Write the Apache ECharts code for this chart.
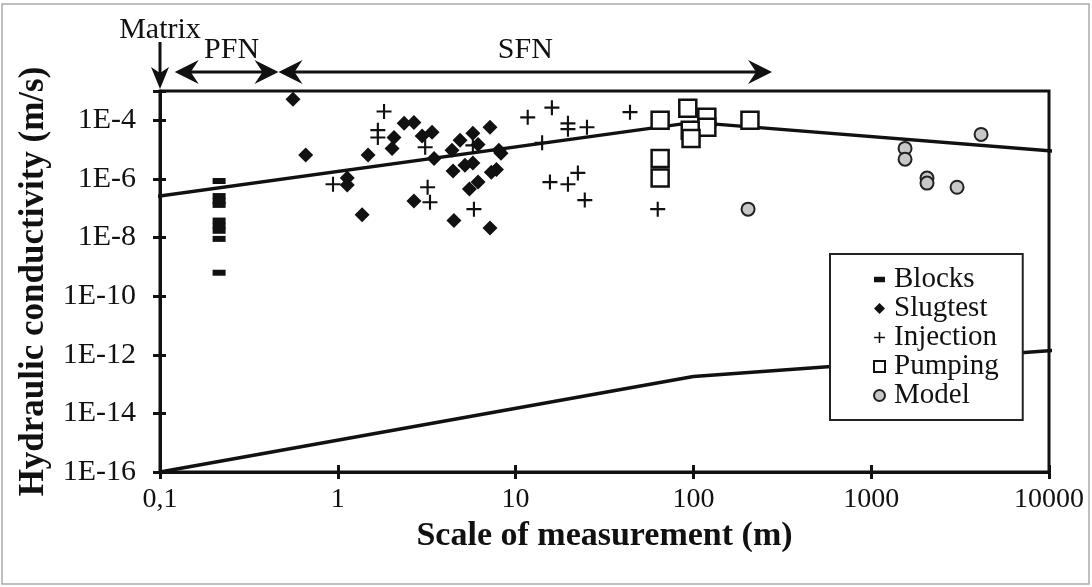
<!DOCTYPE html>
<html>
<head>
<meta charset="utf-8">
<script src="https://cdn.jsdelivr.net/npm/echarts@6/dist/echarts.min.js"></script>
<style>
    html, body { margin: 0; padding: 0; background: #fff; }
    #chart { width: 1092px; height: 587px; }
</style>
</head>
<body>
<div id="chart"></div>
<script>
const blocks = [
    [0.215, 8.5e-7], [0.215, 2.6e-7], [0.215, 1.75e-7], [0.215, 1.3e-7],
    [0.215, 3.8e-8], [0.215, 2.5e-8], [0.215, 1.7e-8], [0.215, 9e-9], [0.215, 6.3e-10]
]
const slugtest = [
    [0.56, 5.2e-4], [0.66, 6.5e-6], [1.48, 6.5e-6], [1.13, 1.07e-6], [1.13, 6.2e-7],
    [1.37, 6e-8], [2.02, 1.1e-5], [2.07, 2.6e-5], [2.36, 7.9e-5], [2.68, 8.5e-5],
    [2.98, 2.9e-5], [3.39, 3.9e-5], [3.48, 5e-6], [2.68, 1.75e-7], [4.5, 3.8e-8],
    [4.39, 9.5e-6], [4.45, 1.85e-6], [4.87, 2.1e-5], [5.19, 2.9e-6], [5.75, 3.6e-5],
    [5.75, 3.5e-6], [6.15, 1.5e-5], [6.15, 7.8e-7], [5.5, 4.5e-7], [7.18, 5.8e-5],
    [7.18, 2.1e-8], [7.3, 1.7e-6], [7.8, 2.1e-6], [8.05, 9.5e-6], [8.28, 7.5e-6]
]
const injection = [
    [1.82, 2.0e-4], [1.68, 4.6e-5], [1.68, 2.6e-5], [0.94, 6.6e-7], [3.1, 1.2e-5],
    [3.2, 5.2e-7], [3.3, 1.6e-7], [5.83, 9.3e-8], [5.75, 1.4e-5], [11.7, 1.26e-4],
    [16.0, 2.7e-4], [19.7, 7.9e-5], [19.7, 5e-5], [25.2, 5.8e-5], [14.1, 1.7e-5],
    [44, 1.9e-4], [15.6, 7.8e-7], [19.7, 6.6e-7], [22.4, 1.6e-6], [24.5, 1.9e-7],
    [63, 9.3e-8]
]
const pumping = [
    [65, 1e-4], [93, 2.6e-4], [119, 1.26e-4], [119, 5.8e-5], [96, 4.6e-5],
    [97, 2.4e-5], [208, 1e-4], [65, 5e-6], [65, 1.07e-6]
]
const model = [
    [203, 9.3e-8], [1550, 1.1e-5], [1550, 4.7e-6], [2060, 1.07e-6], [2060, 7.2e-7],
    [3040, 5.2e-7], [4150, 3.3e-5]
]
const upperLine = [[0.09, 2.4e-7], [100, 8.5e-5], [11800, 8.4e-6]]
const lowerLine = [[0.1, 1e-16], [100, 1.8e-13], [11800, 1.48e-12]]
const xTickLabels = ['0,1', '1', '10', '100', '1000', '10000']
const yMin = 1e-16, yMax = 1e-3
// annotation ranges along the x axis (m)
const matrixAt = 0.1
const pfnRange = [0.121, 0.464]
const sfnRange = [0.464, 277]

const FONT = 'Liberation Serif'
const plusPath = 'path://M6,0h2v6h6v2h-6v6h-2v-6h-6v-2h6z'

let chart = echarts.init(document.getElementById('chart'), null, { renderer: 'canvas' })

const gridBox = { left: 160, right: 43, top: 91, bottom: 115 }

function logAxis (extra) {
    return Object.assign({
        type: 'log',
        logBase: 10,
        splitLine: { show: false },
        minorTick: { show: false },
        axisLine: { show: true, lineStyle: { color: '#111', width: 3 } },
        axisTick: { show: true, length: 7, lineStyle: { color: '#111', width: 3 } }
    }, extra)
}

chart.setOption({
    animation: false,
    backgroundColor: '#fff',
    textStyle: { fontFamily: FONT, color: '#111' },
    grid: [
        Object.assign({ show: true, borderColor: '#111', borderWidth: 3, containLabel: false }, gridBox),
        Object.assign({ show: false, containLabel: false }, gridBox)
    ],
    legend: {
        orient: 'vertical',
        left: 830,
        top: 254,
        padding: [11, 24, 10, 43],
        itemGap: 0,
        itemWidth: 11,
        itemHeight: 11,
        borderColor: '#222',
        borderWidth: 2,
        backgroundColor: '#fff',
        textStyle: { fontFamily: FONT, fontSize: 29, color: '#111', padding: [0, 0, 0, 4] },
        data: [
            { name: 'Blocks', icon: 'path://M0,0h12v6h-12z' },
            { name: 'Slugtest', icon: 'diamond' },
            { name: 'Injection', icon: plusPath },
            { name: 'Pumping', icon: 'rect' },
            { name: 'Model', icon: 'circle' }
        ]
    },
    xAxis: [
        logAxis({
            gridIndex: 0,
            min: 0.1,
            max: 10000,
            name: 'Scale of measurement (m)',
            nameLocation: 'middle',
            nameGap: 38,
            nameTextStyle: { fontFamily: FONT, fontSize: 34, fontWeight: 'bold', color: '#111' },
            axisLabel: {
                margin: 14,
                fontFamily: FONT,
                fontSize: 28,
                color: '#111',
                formatter: function (v) {
                    return xTickLabels[Math.round(Math.log10(v)) + 1]
                }
            }
        }),
        logAxis({
            gridIndex: 1,
            min: 0.1,
            max: 10000,
            axisLine: { show: false },
            axisTick: { show: true, inside: true, length: 7, lineStyle: { color: '#111', width: 3 } },
            axisLabel: { show: false }
        })
    ],
    yAxis: [
        logAxis({
            gridIndex: 0,
            min: yMin,
            max: yMax,
            interval: 2,
            name: 'Hydraulic conductivity (m/s)',
            nameLocation: 'middle',
            nameGap: 106,
            nameTextStyle: { fontFamily: FONT, fontSize: 35, fontWeight: 'bold', color: '#111' },
            axisLabel: {
                margin: 24,
                fontFamily: FONT,
                fontSize: 30,
                color: '#111',
                formatter: function (v) {
                    let e = Math.round(Math.log10(v))
                    if (e % 2 !== 0) return ''
                    return '1E' + e
                }
            }
        }),
        logAxis({
            gridIndex: 1,
            min: yMin,
            max: yMax,
            interval: 2,
            axisLine: { show: false },
            axisTick: { show: true, inside: true, length: 6, lineStyle: { color: '#111', width: 3 } },
            axisLabel: { show: false }
        })
    ],
    series: [
        {
            name: 'upper',
            type: 'line',
            data: upperLine,
            symbol: 'none',
            clip: false,
            z: 2,
            lineStyle: { color: '#111', width: 3.5 }
        },
        {
            name: 'lower',
            type: 'line',
            data: lowerLine,
            symbol: 'none',
            clip: false,
            z: 2,
            lineStyle: { color: '#111', width: 3.5 }
        },
        {
            name: 'Blocks',
            type: 'scatter',
            data: blocks,
            symbol: 'rect',
            symbolSize: [13, 6],
            z: 3,
            itemStyle: { color: '#111', opacity: 1 }
        },
        {
            name: 'Slugtest',
            type: 'scatter',
            data: slugtest,
            symbol: 'diamond',
            symbolSize: 15,
            z: 3,
            itemStyle: { color: '#111', opacity: 1 }
        },
        {
            name: 'Injection',
            type: 'scatter',
            data: injection,
            symbol: plusPath,
            symbolSize: 15,
            z: 3,
            itemStyle: { color: '#111', opacity: 1 }
        },
        {
            name: 'Pumping',
            type: 'scatter',
            data: pumping,
            symbol: 'rect',
            symbolSize: 17,
            z: 4,
            itemStyle: { color: '#fff', borderColor: '#111', borderWidth: 2.5, opacity: 1 }
        },
        {
            name: 'Model',
            type: 'scatter',
            data: model,
            symbol: 'circle',
            symbolSize: 13,
            z: 4,
            itemStyle: { color: '#c8c8c8', borderColor: '#222', borderWidth: 2, opacity: 1 }
        }
    ]
})

// annotation arrows above the frame, placed through the x axis scale
function px (v) {
    return chart.convertToPixel({ xAxisIndex: 0 }, v)
}
function headLeft (x, y) {
    return { type: 'polygon', shape: { points: [[x, y], [x + 24, y - 12], [x + 16, y], [x + 24, y + 12]] }, style: { fill: '#111' } }
}
function headRight (x, y) {
    return { type: 'polygon', shape: { points: [[x, y], [x - 24, y - 12], [x - 16, y], [x - 24, y + 12]] }, style: { fill: '#111' } }
}
function doubleArrow (x1, x2, y) {
    return [
        { type: 'line', shape: { x1: x1 + 14, y1: y, x2: x2 - 14, y2: y }, style: { stroke: '#111', lineWidth: 3 } },
        headLeft(x1, y),
        headRight(x2, y)
    ]
}

let arrowY = 72
let mx = px(matrixAt)
let p1 = px(pfnRange[0]), p2 = px(pfnRange[1])
let s1 = px(sfnRange[0]), s2 = px(sfnRange[1])
let labelStyle = { fontFamily: FONT, fontSize: 30, fill: '#111', align: 'center', verticalAlign: 'middle' }

let elements = [
    { type: 'rect', shape: { x: 2, y: 4, width: 1087, height: 580 }, style: { fill: 'none', stroke: '#aaa', lineWidth: 1.5 }, silent: true },
    { type: 'text', x: mx, y: 30, style: Object.assign({ text: 'Matrix' }, labelStyle) },
    { type: 'line', shape: { x1: mx, y1: 42, x2: mx, y2: 76 }, style: { stroke: '#111', lineWidth: 3 } },
    { type: 'polygon', shape: { points: [[mx, 89], [mx - 9, 67], [mx, 73], [mx + 9, 67]] }, style: { fill: '#111' } },
    { type: 'text', x: (p1 + p2) / 2 + 5, y: 50, style: Object.assign({ text: 'PFN' }, labelStyle) },
    { type: 'text', x: (s1 + s2) / 2, y: 50, style: Object.assign({ text: 'SFN' }, labelStyle) }
]
elements = elements.concat(doubleArrow(p1, p2, arrowY), doubleArrow(s1, s2, arrowY))

chart.setOption({ graphic: { elements: elements } })
</script>
</body>
</html>
